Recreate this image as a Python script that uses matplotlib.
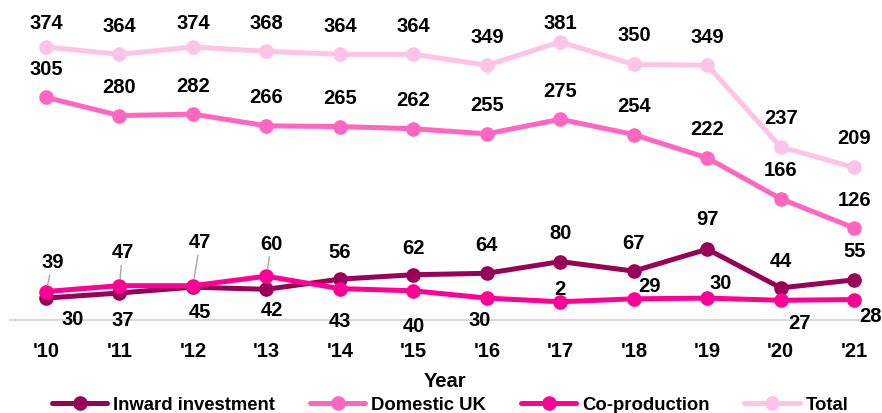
import matplotlib.pyplot as plt

plt.rcParams['font.family'] = ['Liberation Sans', 'DejaVu Sans']

years = ["'10", "'11", "'12", "'13", "'14", "'15", "'16", "'17", "'18", "'19", "'20", "'21"]
inward = [30, 37, 45, 42, 56, 62, 64, 80, 67, 97, 44, 55]
domestic = [305, 280, 282, 266, 265, 262, 255, 275, 254, 222, 166, 126]
coprod = [39, 47, 47, 60, 43, 40, 30, 25, 29, 30, 27, 28]
coprod_labels = ['39', '47', '47', '60', '43', '40', '30', '2', '29', '30', '27', '28']
total = [374, 364, 374, 368, 364, 364, 349, 381, 350, 349, 237, 209]

# label offsets in pixels (dx, dy up), per point
off_total = [(0, 24), (0, 29), (0, 24), (0, 29), (0, 29), (0, 29),
             (0, 29), (0, 19), (0, 30), (0, 29), (0, 29), (0, 30)]
off_dom = [(0, 29)] * 12
off_inw = [(27, -20), (3, -27), (7, -24), (5, -20), (0, 28), (0, 27),
           (0, 29), (0, 29), (0, 29), (0, 31), (0, 27), (0, 29)]
off_cop = [(7, 30), (3, 34), (7, 44), (5, 33), (0, -32), (0, -35),
           (-7, -21), (0, 13), (16, 13), (13, 16), (19, -22), (16, -16)]
leader_cop = [True, True, True, True] + [False] * 8

fig = plt.figure(figsize=(8.82, 4.14), dpi=100)
ax = fig.add_axes([10 / 882, (414 - 321) / 414, 870 / 882, 311 / 414])

x = list(range(len(years)))
series = [
    ('Inward investment', inward, '#990057', [str(v) for v in inward], off_inw, None),
    ('Domestic UK', domestic, '#FF66C2', [str(v) for v in domestic], off_dom, None),
    ('Co-production', coprod, '#FF0096', coprod_labels, off_cop, leader_cop),
    ('Total', total, '#FFC3E6', [str(v) for v in total], off_total, None),
]
z = {'Inward investment': 3, 'Domestic UK': 4, 'Co-production': 3.5, 'Total': 5}
for name, vals, col, labs, offs, leads in series:
    ax.plot(x, vals, color=col, lw=3.6, marker='o', ms=9.5, label=name,
            zorder=z[name], solid_capstyle='round')
    for i, (v, lab, (dx, dy)) in enumerate(zip(vals, labs, offs)):
        kw = {}
        if leads is not None and leads[i]:
            kw['arrowprops'] = dict(arrowstyle='-', color='#A6A6A6', lw=1,
                                    shrinkA=1, shrinkB=5)
        ax.annotate(lab, (i, v), xytext=(dx * 0.72, dy * 0.72),
                    textcoords='offset points', ha='center', va='center',
                    fontsize=14.5, fontweight='bold', color='black',
                    annotation_clip=False, zorder=10, **kw)

ax.set_xlim(-0.49, 11.35)
ax.set_ylim(0, 426)
ax.set_xticks(x)
ax.set_xticklabels(years, fontsize=14.5, fontweight='bold')
ax.tick_params(axis='x', length=0, pad=15)
ax.set_yticks([])
for s in ['top', 'right', 'left']:
    ax.spines[s].set_visible(False)
ax.spines['bottom'].set_color('#D9D9D9')
ax.spines['bottom'].set_linewidth(1.5)
ax.set_xlabel('Year', fontsize=14.5, fontweight='bold', labelpad=8)

fig.legend(loc='center', bbox_to_anchor=(450 / 882, 1 - 406 / 414), ncol=4,
           frameon=False, prop={'size': 13.3, 'weight': 'bold'},
           handlelength=3, handletextpad=0.3, columnspacing=1.9,
           borderaxespad=0, borderpad=0)

plt.savefig('out.png', dpi=100)
